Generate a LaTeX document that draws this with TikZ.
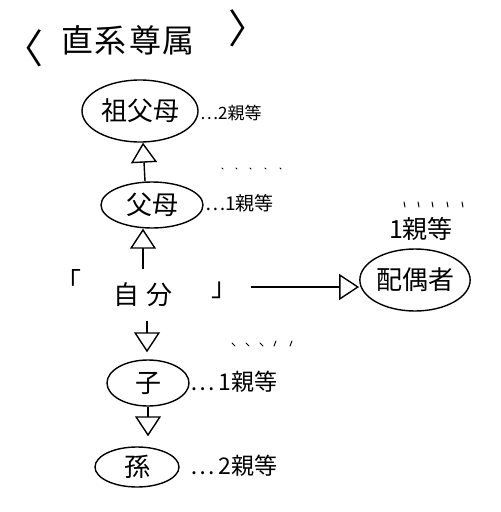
\documentclass[tikz,border=0pt]{standalone}
\usepackage{fontspec}
\newfontfamily\jp{Noto Sans CJK JP}
\usetikzlibrary{arrows.meta,shapes.geometric}
\begin{document}
\begin{tikzpicture}[x=1pt,y=-1pt,
  oval/.style={draw, ellipse, line width=1.4pt, inner sep=0pt, font=\jp\fontsize{26}{30}\selectfont},
  plain/.style={inner sep=0pt, font=\jp\fontsize{26}{30}\selectfont},
  deg/.style={anchor=west, inner sep=0pt, font=\jp\fontsize{19}{22}\selectfont},
  arr/.style={line width=1.4pt, -{Triangle[open,length=20pt,width=26pt,line width=1.4pt]}},
  tick/.style={line width=1pt, line cap=round}]
\useasboundingbox (0,0) rectangle (501,512);
% title
\node[plain, font=\jp\fontsize{40}{44}\selectfont] (tl) at (23,48) {〈};
\node[plain, font=\jp\fontsize{32}{36}\selectfont] (title) at (128,40) {直\hspace{2pt}系\hspace{2pt}尊\hspace{2pt}属};
\node[plain, font=\jp\fontsize{40}{44}\selectfont] (tr) at (248,28) {〉};
% nodes
\node[oval, minimum width=116pt, minimum height=62pt] (gp) at (140,111) {祖父母};
\node[oval, minimum width=102pt, minimum height=46pt] (p) at (152,205) {父母};
\node[plain, minimum height=52pt] (me) at (143,295) {自\hspace{8pt}分};
\node[plain] (lb) at (68,280) {「};
\node[plain] (rb) at (224,290) {」};
\node[oval, minimum width=110pt, minimum height=62pt] (sp) at (415,280) {配偶者};
\node[oval, minimum width=82pt, minimum height=46pt] (c) at (148,383) {子};
\node[oval, minimum width=84pt, minimum height=40pt] (gc) at (137,467) {孫};
% degree labels
\node[deg, font=\jp\fontsize{17}{20}\selectfont] (lgp) at (200,113) {…2親等};
\node[deg] (lp) at (205,203) {…1親等};
\node[deg, anchor=center, font=\jp\fontsize{25}{28}\selectfont] (lsp) at (421,229) {1親等};
\node[deg, font=\jp\fontsize{23}{26}\selectfont] (lc) at (190,382) {…\hspace{4pt}1親等};
\node[deg, font=\jp\fontsize{23}{26}\selectfont] (lgc) at (190,466) {…\hspace{4pt}2親等};
% arrows
\draw[arr] ([xshift=-7pt]p.north) -- ([xshift=3pt]gp.south);
\draw[arr] (me.north) -- (me.north |- p.south);
\draw[arr, shorten <=14pt] (rb.east |- 0,287) -- (sp.west |- 0,287);
\draw[arr, shorten >=7pt] ([xshift=4pt]me.south) -- ([xshift=4pt]me.south |- c.north);
\draw[arr, shorten >=10pt] (c.south) -- (c.south |- gc.north);
% emphasis ticks
\foreach \x in {222,236,250,265,280} \draw[tick] (\x,168) -- (\x+1,169);
\foreach \x in {404,418,432,447,462} \draw[tick] (\x,202) -- (\x+1,207);
\foreach \x in {232,246,260} \draw[tick] (\x,343) -- (\x+3,346);
\foreach \x in {274,290} \draw[tick] (\x,346) -- (\x+2,341);
\end{tikzpicture}
\end{document}
